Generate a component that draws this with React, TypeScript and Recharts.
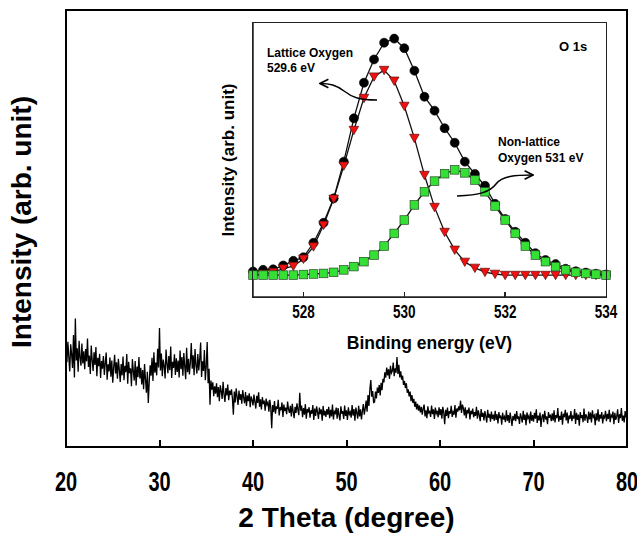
import React from 'react'
import { LineChart, Line, XAxis, YAxis } from 'recharts'

const FONT = '"Liberation Sans", Arial, Helvetica, sans-serif'

// XRD pattern: 2 theta 20..80 deg, 0.1 deg step (one row = 2 deg)
const thetaStart = 20
const thetaStep = 0.1
const xrdIntensity = [
  22.8, 19.4, 24.1, 20.6, 17.3, 23.5, 21.2, 18.1, 25.6, 15.9, 29.4, 19.8, 22.6, 17.2, 24.3, 20.5, 18.6, 23.7, 19.1, 21.9,
  17.8, 22.4, 19.6, 24.8, 18.3, 20.9, 16.7, 23.2, 19.9, 17.4, 21.7, 18.8, 22.9, 16.2, 20.4, 18.5, 21.3, 15.8, 19.7, 17.9,
  20.8, 16.5, 19.2, 21.6, 15.4, 18.9, 17.3, 20.5, 16.1, 19.8, 14.7, 18.2, 21.1, 16.8, 19.4, 15.6, 20.2, 17.7, 14.9, 19.0,
  16.4, 20.7, 15.3, 18.6, 17.1, 21.3, 14.5, 19.5, 16.9, 18.0, 13.9, 20.1, 17.4, 15.2, 19.7, 14.1, 18.4, 16.0, 20.6, 15.7,
  18.1, 14.3, 17.6, 13.2, 19.0, 15.5, 12.4, 17.2, 10.1, 14.8, 18.7, 16.3, 20.4, 15.1, 21.7, 17.0, 19.3, 16.4, 22.5, 18.2,
  27.2, 17.5, 21.4, 16.2, 20.0, 18.6, 15.7, 22.3, 19.1, 16.9, 20.8, 17.6, 23.0, 15.8, 19.5, 18.1, 21.2, 16.5, 20.3, 17.2,
  19.8, 15.9, 22.1, 17.8, 20.6, 16.3, 21.5, 18.4, 15.5, 22.7, 17.1, 20.2, 16.6, 19.4, 23.8, 17.9, 21.0, 16.4, 22.4, 18.7,
  16.8, 21.3, 17.5, 20.1, 23.9, 16.0, 19.6, 17.4, 22.2, 15.3, 18.5, 24.0, 14.6, 17.9, 9.7, 15.2, 13.1, 14.8, 11.6, 13.9,
  12.2, 14.6, 11.4, 13.7, 10.5, 14.1, 12.8, 11.0, 14.9, 12.0, 10.3, 13.5, 11.8, 14.3, 10.7, 12.9, 11.9, 13.2, 11.1, 7.4,
  12.7, 10.2, 13.4, 11.5, 9.6, 12.9, 10.8, 12.1, 9.9, 13.0, 11.3, 10.0, 12.6, 9.4, 11.8, 10.5, 12.3, 9.1, 11.6, 10.7,
  9.5, 12.0, 10.4, 8.8, 11.7, 10.1, 12.5, 9.2, 10.9, 8.6, 11.4, 9.8, 10.6, 8.3, 11.1, 9.7, 10.2, 8.1, 10.8, 9.0,
  4.3, 9.6, 8.0, 10.5, 7.6, 9.3, 8.7, 10.8, 7.2, 9.1, 8.4, 10.2, 6.9, 9.7, 8.2, 9.0, 7.5, 10.4, 8.6, 7.8,
  9.4, 7.0, 9.9, 8.1, 6.6, 9.2, 7.8, 10.0, 8.5, 7.3, 12.4, 8.3, 9.5, 6.8, 8.9, 7.4, 9.8, 6.5, 8.7, 7.9,
  9.1, 6.7, 8.4, 7.6, 9.6, 6.2, 8.8, 7.1, 9.3, 8.0, 6.4, 9.0, 7.5, 8.6, 6.0, 9.4, 7.2, 8.3, 6.9, 8.7,
  7.4, 9.2, 6.6, 8.5, 7.0, 9.7, 6.3, 8.1, 7.7, 9.0, 6.5, 8.9, 7.3, 6.1, 9.3, 7.6, 8.2, 6.4, 9.5, 7.1,
  8.4, 6.2, 9.1, 7.5, 8.0, 6.7, 9.6, 7.2, 8.7, 6.0, 9.0, 7.8, 6.5, 9.4, 7.0, 8.6, 6.3, 8.2, 9.8, 7.4,
  8.8, 10.6, 8.1, 11.9, 9.4, 13.2, 15.3, 11.5, 12.8, 10.2, 10.3, 12.7, 11.1, 13.6, 12.4, 14.2, 11.8, 14.7, 13.0, 15.6,
  14.8, 17.1, 15.9, 18.2, 16.4, 17.8, 15.6, 18.6, 16.9, 17.4, 19.3, 16.2, 18.0, 17.0, 20.6, 16.7, 18.8, 15.9, 17.3, 15.4,
  16.3, 14.2, 15.1, 13.5, 14.6, 12.4, 13.2, 11.6, 12.7, 10.5, 11.9, 10.1, 11.0, 9.2, 10.4, 8.6, 9.9, 8.3, 9.5, 7.9,
  9.2, 7.4, 8.8, 9.7, 7.0, 8.4, 6.6, 9.3, 7.8, 8.1, 6.9, 9.5, 7.5, 8.6, 6.4, 9.0, 7.7, 8.3, 6.8, 9.1,
  7.3, 8.7, 6.5, 9.2, 7.9, 5.2, 8.5, 7.1, 9.0, 6.6, 8.2, 7.6, 9.4, 6.9, 8.0, 7.4, 9.6, 6.7, 8.8, 8.1,
  9.3, 8.4, 10.6, 7.8, 9.7, 8.9, 7.2, 9.1, 6.6, 8.5, 7.7, 9.0, 6.3, 8.3, 7.5, 8.8, 6.8, 8.0, 7.1, 9.2,
  6.5, 8.4, 7.3, 5.9, 8.7, 6.9, 7.8, 6.1, 8.2, 7.0, 5.6, 8.5, 6.7, 7.6, 5.8, 8.1, 6.4, 7.4, 6.0, 8.3,
  6.2, 7.5, 5.4, 8.0, 6.6, 7.2, 5.1, 7.8, 6.3, 6.9, 5.7, 8.4, 6.0, 7.3, 5.5, 7.9, 6.5, 4.8, 7.1, 6.1,
  7.6, 5.9, 8.2, 6.4, 7.0, 5.3, 7.7, 6.8, 5.6, 8.3, 6.2, 7.4, 5.0, 7.9, 6.6, 7.1, 5.4, 8.1, 6.0, 7.3,
  5.8, 7.8, 6.5, 8.6, 5.5, 7.2, 6.1, 7.9, 4.6, 6.9, 7.5, 5.7, 8.3, 6.3, 7.0, 5.2, 8.0, 6.7, 7.4, 5.9,
  7.7, 6.0, 8.4, 5.6, 7.3, 6.6, 8.9, 5.8, 7.1, 6.2, 8.1, 5.1, 7.6, 6.8, 8.5, 6.1, 7.9, 5.4, 7.2, 6.4,
  8.2, 5.9, 7.0, 6.5, 8.7, 5.3, 7.8, 6.2, 7.4, 4.9, 8.0, 6.6, 7.3, 5.7, 8.8, 6.0, 7.5, 6.9, 5.5, 8.1,
  6.3, 7.9, 5.6, 8.4, 6.8, 7.2, 5.0, 7.7, 6.1, 8.6, 5.8, 7.4, 6.5, 8.0, 5.4, 7.1, 6.7, 8.3, 5.9, 7.6,
  6.4, 8.5, 5.7, 7.3, 6.9, 8.1, 5.2, 7.8, 6.2, 7.0, 8.6, 5.5, 7.5, 6.6, 8.9, 6.0, 7.2, 5.6, 8.2, 6.8,
  7.4,
]
const thetaTicks = [20, 30, 40, 50, 60, 70, 80]

// XPS O 1s fit: 527..534 eV, 0.2 eV step
const energyStart = 527
const energyStep = 0.2
const totalFit = [
  9.3, 9.9, 10.1, 11.5, 13.2,
  14.5, 19.8, 27.1, 36.0, 49.4,
  65.2, 78.2, 86.7, 92.8, 94.3,
  90.8, 82.6, 73.1, 68.0, 61.6,
  56.3, 49.4, 44.9, 40.6, 34.0,
  28.5, 23.8, 19.8, 16.0, 13.5,
  12.0, 10.3, 9.4, 8.9, 8.5,
  8.2,
]
const latticeO = [
  8.0, 8.4, 9.1, 10.4, 11.3,
  13.9, 18.4, 26.3, 35.8, 47.9,
  60.9, 72.6, 80.4, 82.8, 78.9,
  69.7, 58.0, 44.5, 32.8, 23.7,
  17.2, 12.8, 10.6, 9.1, 8.4,
  8.0, 8.0, 8.0, 8.0, 8.0,
  8.0, 8.0, 8.0, 8.0, 8.0,
  8.0,
]
const nonLatticeO = [
  8.0, 8.0, 8.0, 8.0, 8.0,
  8.2, 8.4, 8.6, 9.0, 9.9,
  11.1, 12.9, 15.3, 18.6, 23.2,
  28.1, 33.6, 38.4, 42.3, 45.0,
  46.4, 45.3, 42.7, 38.4, 33.2,
  28.1, 23.2, 18.6, 15.3, 12.9,
  11.1, 9.9, 9.0, 8.6, 8.3,
  8.0,
]
const energyTicks = [528, 530, 532, 534]

const xrdData = xrdIntensity.map((v, i) => ({
  theta: +(thetaStart + i * thetaStep).toFixed(1),
  intensity: v,
}))

const xpsData = totalFit.map((v, i) => ({
  energy: +(energyStart + i * energyStep).toFixed(1),
  total: v,
  lattice: latticeO[i],
  nonLattice: nonLatticeO[i],
}))

// plot boxes (page pixels), used for the frame and the inward tick marks
const mainBox = { left: 66, top: 10, right: 627, bottom: 447 }
const insetBox = { left: 253, top: 23, right: 606, bottom: 297 }
const mainTickX = (t: number) => mainBox.left + ((t - 20) / 60) * (mainBox.right - mainBox.left)
const insetTickX = (t: number) => insetBox.left + ((t - 527) / 7) * (insetBox.right - insetBox.left)

const MainTick = ({ x, y, payload }: any) => (
  <g transform={`translate(${x},${y + 44}) scale(1,1.4)`}>
    <text textAnchor="middle" fontSize={20} fontWeight="bold" fontFamily={FONT} fill="#000">
      {payload.value}
    </text>
  </g>
)

const InsetTick = ({ x, y, payload }: any) => (
  <g transform={`translate(${x},${y + 21}) scale(1,1.35)`}>
    <text textAnchor="middle" fontSize={13.5} fontWeight="bold" fontFamily={FONT} fill="#000">
      {payload.value}
    </text>
  </g>
)

const MainXTitle = () => (
  <text x={346.5} y={527} textAnchor="middle" fontSize={28} fontWeight="bold" fontFamily={FONT} fill="#000">
    2 Theta (degree)
  </text>
)

const MainYTitle = () => (
  <text transform="translate(31,222) rotate(-90)" textAnchor="middle" fontSize={28} fontWeight="bold" fontFamily={FONT} fill="#000">
    Intensity (arb. unit)
  </text>
)

// inset chart is offset by (200, 15) inside the page
const InsetXTitle = () => (
  <text x={229.5} y={334} textAnchor="middle" fontSize={17.5} fontWeight="bold" fontFamily={FONT} fill="#000">
    Binding energy (eV)
  </text>
)

const InsetYTitle = () => (
  <text transform="translate(34,145) rotate(-90)" textAnchor="middle" fontSize={17} fontWeight="bold" fontFamily={FONT} fill="#000">
    Intensity (arb. unit)
  </text>
)

const CircleDot = (p: any) =>
  p.cx == null ? null : (
    <circle key={`c${p.index}`} cx={p.cx} cy={p.cy} r={4.5} fill="#000" stroke="#000" strokeWidth={0.6} />
  )

const TriangleDot = (p: any) =>
  p.cx == null ? null : (
    <path
      key={`t${p.index}`}
      d={`M${p.cx - 4.8},${p.cy - 3.8} L${p.cx + 4.8},${p.cy - 3.8} L${p.cx},${p.cy + 4.6} Z`}
      fill="#f01010"
      stroke="#5a1010"
      strokeWidth={0.7}
    />
  )

const SquareDot = (p: any) =>
  p.cx == null ? null : (
    <rect
      key={`s${p.index}`}
      x={p.cx - 4.3}
      y={p.cy - 4.3}
      width={8.6}
      height={8.6}
      fill="#33e033"
      stroke="#2a4a2a"
      strokeWidth={0.7}
    />
  )

const axisStroke = { stroke: '#000', strokeWidth: 2 }
const insetAxisStroke = { stroke: '#222', strokeWidth: 1.5 }

const frameStyle = (b: typeof mainBox, w: number, color: string): React.CSSProperties => ({
  position: 'absolute',
  left: b.left - w / 2,
  top: b.top - w / 2,
  width: b.right - b.left + w,
  height: b.bottom - b.top + w,
  boxSizing: 'border-box',
  border: `${w}px solid ${color}`,
  pointerEvents: 'none',
})

const tickStyle = (x: number, bottom: number, len: number, w: number, color: string): React.CSSProperties => ({
  position: 'absolute',
  left: x - w / 2,
  top: bottom - len,
  width: w,
  height: len,
  background: color,
  pointerEvents: 'none',
})

export default function App() {
  return (
    <div style={{ position: 'absolute', left: 0, top: 0, width: 637, height: 535, background: '#fff', fontFamily: FONT }}>
      <LineChart width={637} height={535} data={xrdData} margin={{ top: 10, right: 10, bottom: 0, left: 0 }}>
        <XAxis
          dataKey="theta"
          type="number"
          domain={[20, 80]}
          ticks={thetaTicks}
          height={88}
          axisLine={axisStroke}
          tickLine={false}
          tickSize={0}
          tickMargin={0}
          tick={<MainTick />}
          label={<MainXTitle />}
        />
        <YAxis domain={[0, 100]} width={66} tick={false} tickLine={false} axisLine={axisStroke} label={<MainYTitle />} />
        <Line
          type="linear"
          dataKey="intensity"
          stroke="#000"
          strokeWidth={1.3}
          dot={false}
          isAnimationActive={false}
        />
      </LineChart>

      <div style={{ position: 'absolute', left: 200, top: 15 }}>
        <LineChart width={420} height={345} data={xpsData} margin={{ top: 8, right: 14, bottom: 0, left: 0 }}>
          <XAxis
            dataKey="energy"
            type="number"
            domain={[527, 534]}
            ticks={energyTicks}
            height={63}
            axisLine={insetAxisStroke}
            tickLine={false}
            tickSize={0}
            tickMargin={0}
            tick={<InsetTick />}
            label={<InsetXTitle />}
          />
          <YAxis domain={[0, 100]} width={53} tick={false} tickLine={false} axisLine={insetAxisStroke} label={<InsetYTitle />} />
          <Line type="linear" dataKey="total" stroke="#111" strokeWidth={1.3} dot={CircleDot} isAnimationActive={false} />
          <Line type="linear" dataKey="lattice" stroke="#111" strokeWidth={1.3} dot={TriangleDot} isAnimationActive={false} />
          <Line type="linear" dataKey="nonLattice" stroke="#111" strokeWidth={1.3} dot={SquareDot} isAnimationActive={false} />
        </LineChart>
      </div>

      {/* plot frames and inward tick marks */}
      <div style={frameStyle(mainBox, 2, '#000')} />
      {thetaTicks.slice(1, -1).map((t) => (
        <div key={`m${t}`} style={tickStyle(mainTickX(t), mainBox.bottom, 7, 2, '#000')} />
      ))}
      <div style={frameStyle(insetBox, 1.5, '#222')} />
      {energyTicks.slice(0, -1).map((t) => (
        <div key={`i${t}`} style={tickStyle(insetTickX(t), insetBox.bottom, 5, 1.5, '#222')} />
      ))}

      <svg
        width={637}
        height={535}
        style={{ position: 'absolute', left: 0, top: 0, pointerEvents: 'none' }}
        fontFamily={FONT}
        fontWeight="bold"
        fontSize={12}
      >
        <defs>
          <marker id="arrowHead" viewBox="0 0 10 10" refX="9" refY="5" markerWidth="7" markerHeight="7" orient="auto">
            <path d="M1,1 L9,5 L1,9" fill="none" stroke="#000" strokeWidth={1.6} />
          </marker>
        </defs>
        <text x={267} y={57}>Lattice Oxygen</text>
        <text x={267} y={72}>529.6 eV</text>
        <path
          d="M377,100 C358,100 352,97 344,91 C336,85 330,83.5 320,83.5"
          fill="none"
          stroke="#000"
          strokeWidth={1.5}
          markerEnd="url(#arrowHead)"
        />
        <text x={498} y={146}>Non-lattice</text>
        <text x={498} y={162}>Oxygen 531 eV</text>
        <path
          d="M457,196 C480,195 490,192 496,184 C502,176 515,175 533,175"
          fill="none"
          stroke="#000"
          strokeWidth={1.5}
          markerEnd="url(#arrowHead)"
        />
        <text x={559} y={51} fontSize={13}>O 1s</text>
      </svg>
    </div>
  )
}
